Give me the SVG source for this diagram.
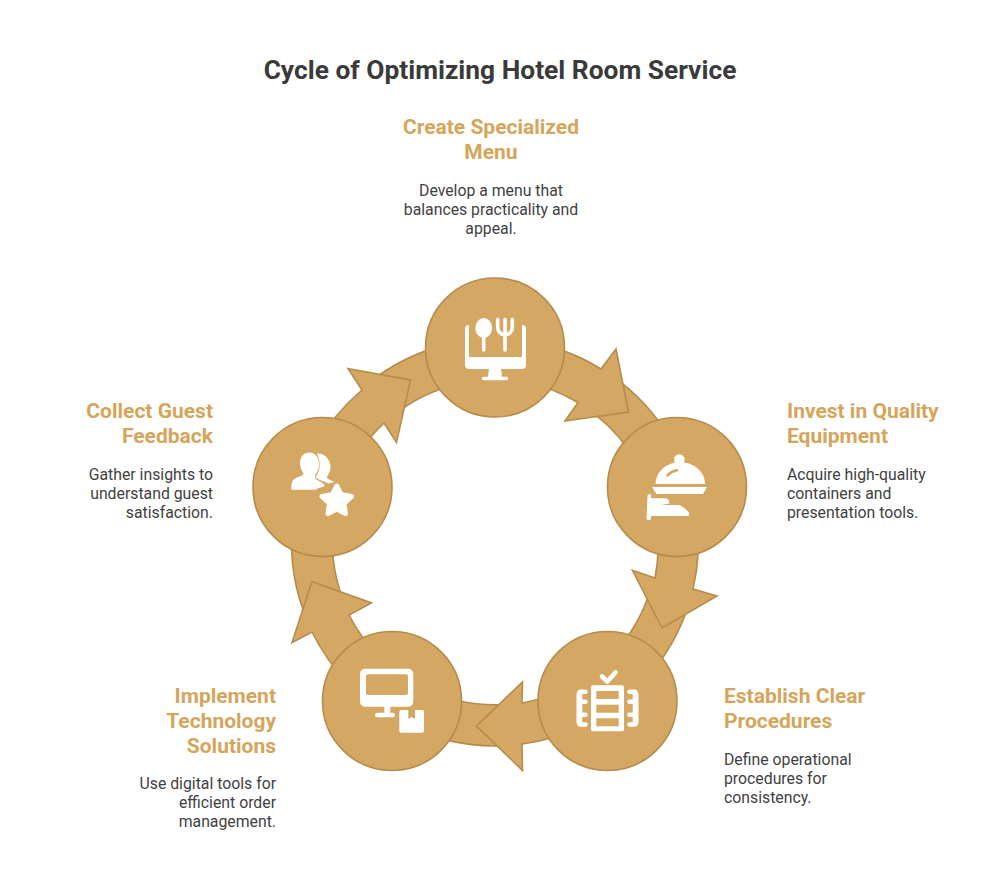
<svg xmlns="http://www.w3.org/2000/svg" width="1000" height="885" viewBox="0 0 1000 885">
<style>
text{font-family:Roboto,"Liberation Sans",sans-serif}
.title{font-size:26.35px;font-weight:700;fill:#3a3a3a;text-anchor:middle}
.head{font-size:21px;font-weight:700;fill:#d4a55a}
.body{font-size:15.8px;fill:#3f3f3f}
.m{text-anchor:middle}.e{text-anchor:end}
.shape{fill:#d4a762;stroke:#b48c4d;stroke-width:1.6;stroke-linejoin:miter}
.w{fill:#fff;stroke:none}
.wl{fill:none;stroke:#fff;stroke-linecap:round;stroke-linejoin:round}
.h{fill:#d4a762;stroke:none}
.hl{fill:none;stroke:#d4a762;stroke-linecap:round}
</style>
<rect width="1000" height="885" fill="#fff"/>
<text class="title" x="500" y="78.5">Cycle of Optimizing Hotel Room Service</text>
<g id="connectors">
<path class="shape" d="M620.3 381.9A203.5 203.5 0 0 1 674.7 446.8L638.5 466A162.5 162.5 0 0 0 595 414.3Z"/>
<path class="shape" d="M686.2 611.9A203.5 203.5 0 0 1 641.4 683.7L611.9 655.2A162.5 162.5 0 0 0 647.7 597.9Z"/>
<path class="shape" d="M502.1 745.7A203.5 203.5 0 0 1 405.8 725.2L423.8 688.4A162.5 162.5 0 0 0 500.7 704.7Z"/>
<path class="shape" d="M303.8 611.9A203.5 203.5 0 0 1 293.5 514L334.1 519.7A162.5 162.5 0 0 0 342.3 597.9Z"/>
<path class="shape" d="M375.4 377.7A203.5 203.5 0 0 1 459.7 341.9L466.8 382.3A162.5 162.5 0 0 0 399.5 410.8Z"/>
<path class="shape" d="M530.3 341.9A203.5 203.5 0 0 1 601 369L616 349L628.5 412L565 421L578 402.5A162.5 162.5 0 0 0 523.2 382.3Z"/>
<path class="shape" d="M696.5 514A203.5 203.5 0 0 1 693 589L717 596L662 628L632.5 570.5L655 578A162.5 162.5 0 0 0 655.9 519.7Z"/>
<path class="shape" d="M584.2 725.2A203.5 203.5 0 0 1 522 744L522.5 770.5L476.5 726L522.5 682L522 703A162.5 162.5 0 0 0 566.2 688.4Z"/>
<path class="shape" d="M348.6 683.7A203.5 203.5 0 0 1 312 632L292 642.5L312 581.5L371.5 603L349 615A162.5 162.5 0 0 0 378.1 655.2Z"/>
<path class="shape" d="M315.3 446.8A203.5 203.5 0 0 1 362 390L348 368.5L410.5 380L396.5 442.5L384 423A162.5 162.5 0 0 0 351.5 466Z"/>
</g>
<g id="node-menu">
<circle class="shape" cx="495" cy="347.5" r="69.5"/>
<path class="w" d="M468.5 325A3.5 3.5 0 0 0 465 328.5V365A4 4 0 0 0 469 369H522A4 4 0 0 0 526 365V328.5A3.5 3.5 0 0 0 522.5 325H522V357H469V325Z"/>
<path class="w" d="M489 369L488 376.8H483.5A1.7 1.7 0 0 0 483.5 380.2H506.5A1.7 1.7 0 0 0 506.5 376.8H502L501 369Z"/>
<ellipse class="w" cx="483.7" cy="328" rx="8.4" ry="10"/>
<path class="wl" stroke-width="3.6" d="M483.7 332V350"/>
<path class="wl" stroke-width="3.6" d="M497.7 319.5V327.5A7.3 7.3 0 0 0 512.3 327.5V319.5M505 319.5V350"/>
</g>
<g id="node-equipment">
<circle class="shape" cx="677" cy="487" r="69.5"/>
<circle class="w" cx="679.3" cy="459.5" r="5.3"/>
<path class="w" d="M655.5 484A24.7 22 0 0 1 705 484Z"/>
<path class="hl" stroke-width="2.6" d="M667.5 475.3Q671 471.5 677 470.3"/>
<path class="w" d="M652 487H707L703 494H656.5Z"/>
<path class="w" d="M647.5 495.5A1.8 1.8 0 0 1 651 496.5V498.3H666Q669 498.5 669.5 503.5L661 505H679Q683 506 689 512.5V516H651V518A2.2 2.2 0 0 1 646.5 518Z"/>
</g>
<g id="node-procedures">
<circle class="shape" cx="607.5" cy="701" r="69.5"/>
<path class="wl" stroke-width="4.6" d="M602 676.5L607.3 681.5L615.5 672.5"/>
<rect class="w" x="591" y="685.3" width="33" height="46" rx="2"/>
<rect class="h" x="596.3" y="691" width="22.4" height="8"/>
<rect class="h" x="596.3" y="704.7" width="22.4" height="8"/>
<rect class="h" x="596.3" y="718.3" width="22.4" height="8"/>
<path class="w" d="M581 689.5H585.5A2.2 2.2 0 0 1 585.5 694H582.3V699.5H585.5A2.2 2.2 0 0 1 585.5 704H582.3V712.5H585.5A2.2 2.2 0 0 1 585.5 717H582.3V722.2H585.5A2.2 2.2 0 0 1 585.5 726.7H581Q576.5 726.7 576.5 722V695Q576.5 689.5 581 689.5Z"/>
<path class="w" d="M634 689.5H629.5A2.2 2.2 0 0 0 629.5 694H632.7V699.5H629.5A2.2 2.2 0 0 0 629.5 704H632.7V712.5H629.5A2.2 2.2 0 0 0 629.5 717H632.7V722.2H629.5A2.2 2.2 0 0 0 629.5 726.7H634Q638.5 726.7 638.5 722V695Q638.5 689.5 634 689.5Z"/>
</g>
<g id="node-technology">
<circle class="shape" cx="392" cy="701" r="69.5"/>
<path class="w" fill-rule="evenodd" d="M365 668.7H408.3A5 5 0 0 1 413.3 673.7V701.7A5 5 0 0 1 408.3 706.7H365A5 5 0 0 1 360 701.7V673.7A5 5 0 0 1 365 668.7ZM368 674.3A2 2 0 0 0 366 676.3V693A2 2 0 0 0 368 695H406A2 2 0 0 0 408 693V676.3A2 2 0 0 0 406 674.3Z"/>
<rect class="w" x="384.3" y="706" width="6" height="8"/>
<rect class="w" x="375" y="712.7" width="20" height="4.6" rx="2.3"/>
<path class="w" d="M401.3 710H408.3V719L411.7 717L415 719V710H422A2 2 0 0 1 424 712V730.7A2 2 0 0 1 422 732.7H401.3A2 2 0 0 1 399.3 730.7V712A2 2 0 0 1 401.3 710Z"/>
</g>
<g id="node-feedback">
<circle class="shape" cx="322.5" cy="487" r="69.5"/>
<path class="w" d="M317 453.5C324 453 331 459 330.5 468C330 473 327 476 327 477.5C327 479 332 480.5 334.5 482L328.5 483.5C324 481 318 480 315.5 477C319 473 320 468 319.5 462C319 458 318 455.5 317 453.5Z"/>
<path class="w" d="M309.3 452.5C315.5 452.5 319 457.5 319 464C319 470 316.5 473 315.5 474.5C314 477 315.5 479 318 480.5C321 482 323.5 483 325 486L321 487.5C318.5 487.5 317 489 316 489.7H291.5C291 484 292 480 296 478C299 476.5 303 476 303.5 473.5C303.5 472.5 300 469 300 463.5C300 457.5 303 452.5 309.3 452.5Z"/>
<path class="w" style="stroke:#fff;stroke-width:5;stroke-linejoin:round" d="M336.7 486L341 494.5L351.5 496.5L344 503.5L345.5 513.5L336.7 509L328 513.5L329.5 503.5L322 496.5L332.5 494.5Z"/>
</g>
<g id="labels">
<text class="head m" x="491" y="133.5">Create Specialized</text>
<text class="head m" x="491" y="158.5">Menu</text>
<text class="body m" x="491" y="195.5">Develop a menu that</text>
<text class="body m" x="491" y="214.5">balances practicality and</text>
<text class="body m" x="491" y="233.5">appeal.</text>
<text class="head" x="787" y="418">Invest in Quality</text>
<text class="head" x="787" y="443">Equipment</text>
<text class="body" x="787" y="480">Acquire high-quality</text>
<text class="body" x="787" y="499">containers and</text>
<text class="body" x="787" y="518">presentation tools.</text>
<text class="head" x="724" y="703">Establish Clear</text>
<text class="head" x="724" y="728">Procedures</text>
<text class="body" x="724" y="765">Define operational</text>
<text class="body" x="724" y="784">procedures for</text>
<text class="body" x="724" y="803">consistency.</text>
<text class="head e" x="276" y="703">Implement</text>
<text class="head e" x="276" y="728">Technology</text>
<text class="head e" x="276" y="753">Solutions</text>
<text class="body e" x="276" y="789">Use digital tools for</text>
<text class="body e" x="276" y="808">efficient order</text>
<text class="body e" x="276" y="827">management.</text>
<text class="head e" x="213" y="418">Collect Guest</text>
<text class="head e" x="213" y="443">Feedback</text>
<text class="body e" x="213" y="480">Gather insights to</text>
<text class="body e" x="213" y="499">understand guest</text>
<text class="body e" x="213" y="518">satisfaction.</text>
</g>
</svg>
